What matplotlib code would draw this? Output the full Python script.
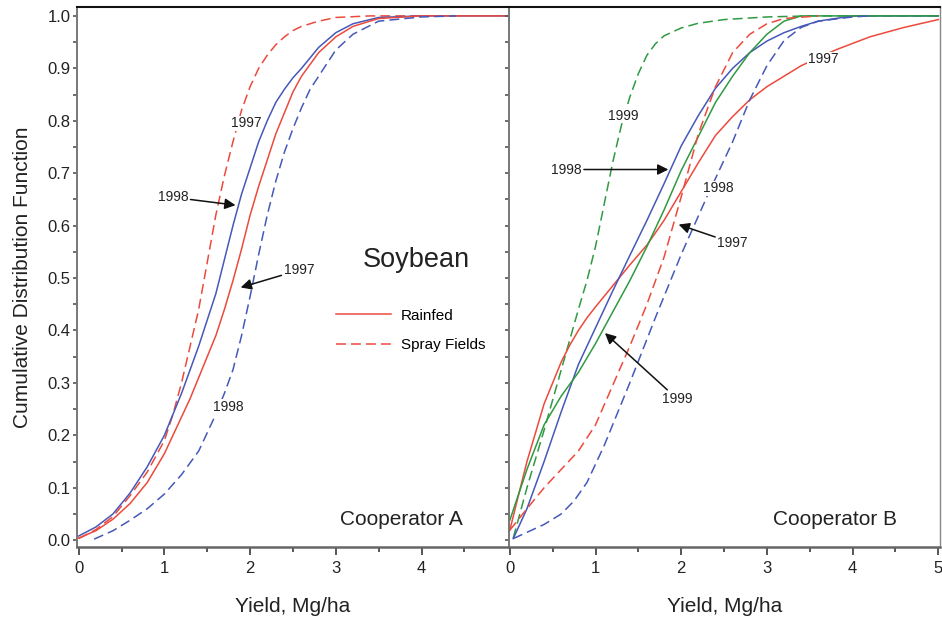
import matplotlib
matplotlib.use('Agg')
import matplotlib.pyplot as plt
from matplotlib.lines import Line2D

plt.rcParams['font.family'] = ['Liberation Sans', 'DejaVu Sans']

RED = '#ec4a3c'
BLUE = '#4658b8'
GREEN = '#2f9a42'
DASH = (0, (6.5, 3.3))

# Cooperator A (yield Mg/ha, cumulative probability)
a_rain97_x = [0, 0.2, 0.4, 0.6, 0.8, 1.0, 1.1, 1.2, 1.3, 1.4, 1.5, 1.6, 1.7, 1.8, 1.9, 2.0, 2.1, 2.2, 2.3, 2.4,
              2.5, 2.6, 2.8, 3.0, 3.2, 3.5, 4.0, 5.03]
a_rain97_y = [0.004, 0.018, 0.04, 0.07, 0.11, 0.165, 0.20, 0.235, 0.27, 0.31, 0.35, 0.39, 0.44, 0.495, 0.555, 0.62,
              0.675, 0.725, 0.775, 0.815, 0.855, 0.885, 0.93, 0.96, 0.98, 0.995, 1.0, 1.0]
a_rain98_x = [0, 0.2, 0.4, 0.6, 0.8, 1.0, 1.1, 1.2, 1.3, 1.4, 1.5, 1.6, 1.7, 1.8, 1.9, 2.0, 2.1, 2.2, 2.3, 2.4,
              2.5, 2.6, 2.8, 3.0, 3.2, 3.5, 4.0, 5.03]
a_rain98_y = [0.008, 0.025, 0.05, 0.09, 0.14, 0.20, 0.24, 0.28, 0.325, 0.37, 0.42, 0.47, 0.535, 0.60, 0.66, 0.71,
              0.76, 0.80, 0.835, 0.86, 0.882, 0.90, 0.94, 0.968, 0.985, 0.997, 1.0, 1.0]
a_spray97_x = [0, 0.2, 0.4, 0.6, 0.8, 1.0, 1.1, 1.2, 1.3, 1.4, 1.5, 1.6, 1.7, 1.8, 1.9, 2.0, 2.1, 2.2, 2.3, 2.4,
               2.5, 2.6, 2.8, 3.0, 3.4, 4.0]
a_spray97_y = [0.003, 0.02, 0.045, 0.085, 0.13, 0.19, 0.24, 0.30, 0.37, 0.44, 0.53, 0.62, 0.695, 0.76, 0.82, 0.865,
               0.90, 0.925, 0.945, 0.96, 0.972, 0.98, 0.99, 0.997, 1.0, 1.0]
a_spray98_x = [0.18, 0.4, 0.6, 0.8, 1.0, 1.2, 1.4, 1.5, 1.6, 1.7, 1.8, 1.9, 2.0, 2.1, 2.2, 2.3, 2.4, 2.5, 2.6,
               2.7, 2.8, 3.0, 3.2, 3.5, 4.0, 4.4]
a_spray98_y = [0.002, 0.018, 0.038, 0.06, 0.088, 0.125, 0.17, 0.205, 0.24, 0.28, 0.325, 0.39, 0.465, 0.545, 0.62,
               0.685, 0.74, 0.785, 0.825, 0.86, 0.885, 0.935, 0.965, 0.99, 0.998, 1.0]

# Cooperator B
b_rain97_x = [0, 0.1, 0.2, 0.3, 0.4, 0.5, 0.6, 0.7, 0.8, 0.9, 1.0, 1.2, 1.4, 1.6, 1.8, 2.0, 2.2, 2.4, 2.6, 2.8,
              3.0, 3.4, 3.8, 4.2, 4.6, 5.0]
b_rain97_y = [0.019, 0.085, 0.15, 0.205, 0.26, 0.30, 0.34, 0.372, 0.40, 0.424, 0.445, 0.485, 0.525, 0.563, 0.61,
              0.665, 0.72, 0.772, 0.808, 0.84, 0.865, 0.905, 0.935, 0.96, 0.978, 0.993]
b_rain98_x = [0.04, 0.2, 0.4, 0.6, 0.8, 1.0, 1.2, 1.4, 1.6, 1.8, 2.0, 2.2, 2.4, 2.6, 2.8, 3.0, 3.2, 3.4, 3.6,
              4.0, 5.0]
b_rain98_y = [0.003, 0.06, 0.15, 0.245, 0.335, 0.405, 0.475, 0.543, 0.61, 0.68, 0.752, 0.81, 0.862, 0.90, 0.93,
              0.952, 0.968, 0.98, 0.99, 1.0, 1.0]
b_rain99_x = [0, 0.2, 0.4, 0.6, 0.8, 1.0, 1.2, 1.4, 1.6, 1.8, 2.0, 2.2, 2.4, 2.6, 2.8, 3.0, 3.2, 3.4, 5.0]
b_rain99_y = [0.038, 0.135, 0.22, 0.275, 0.32, 0.375, 0.435, 0.495, 0.56, 0.63, 0.705, 0.77, 0.835, 0.885, 0.93,
              0.965, 0.99, 1.0, 1.0]
b_spray97_x = [0, 0.2, 0.4, 0.6, 0.8, 1.0, 1.2, 1.4, 1.6, 1.8, 2.0, 2.2, 2.4, 2.6, 2.8, 3.0, 3.2, 3.6]
b_spray97_y = [0.019, 0.06, 0.10, 0.135, 0.17, 0.22, 0.295, 0.37, 0.45, 0.54, 0.655, 0.775, 0.865, 0.93, 0.965,
               0.985, 0.995, 1.0]
b_spray98_x = [0.04, 0.2, 0.4, 0.6, 0.75, 0.9, 1.1, 1.4, 1.7, 2.0, 2.3, 2.6, 2.8, 3.0, 3.2, 3.4, 3.6, 4.0, 4.2]
b_spray98_y = [0.003, 0.015, 0.03, 0.05, 0.075, 0.11, 0.18, 0.30, 0.425, 0.545, 0.655, 0.76, 0.84, 0.905, 0.953,
               0.978, 0.99, 0.998, 1.0]
b_spray99_x = [0.04, 0.2, 0.4, 0.6, 0.8, 0.9, 1.0, 1.1, 1.2, 1.3, 1.4, 1.5, 1.6, 1.7, 1.8, 2.0, 2.2, 2.5, 3.0,
               3.5, 5.0]
b_spray99_y = [0.004, 0.10, 0.21, 0.325, 0.44, 0.495, 0.56, 0.64, 0.72, 0.79, 0.845, 0.89, 0.925, 0.947, 0.962,
               0.977, 0.986, 0.993, 0.998, 1.0, 1.0]

xticks = [0, 1, 2, 3, 4]
xticks_b = [0, 1, 2, 3, 4, 5]
yticks = [i / 10 for i in range(11)]

fig = plt.figure(figsize=(9.42, 6.18), dpi=100)
axA = fig.add_axes([0.0817, 0.1149, 0.4586, 0.8738])
axB = fig.add_axes([0.5403, 0.1149, 0.4576, 0.8738])

axA.plot(a_spray97_x, a_spray97_y, color=RED, lw=1.1, ls=DASH)
axA.plot(a_rain98_x, a_rain98_y, color=BLUE, lw=1.1)
axA.plot(a_rain97_x, a_rain97_y, color=RED, lw=1.1)
axA.plot(a_spray98_x, a_spray98_y, color=BLUE, lw=1.1, ls=DASH)

axB.plot(b_spray99_x, b_spray99_y, color=GREEN, lw=1.1, ls=DASH)
axB.plot(b_rain97_x, b_rain97_y, color=RED, lw=1.1)
axB.plot(b_rain98_x, b_rain98_y, color=BLUE, lw=1.1)
axB.plot(b_rain99_x, b_rain99_y, color=GREEN, lw=1.1)
axB.plot(b_spray97_x, b_spray97_y, color=RED, lw=1.1, ls=DASH)
axB.plot(b_spray98_x, b_spray98_y, color=BLUE, lw=1.1, ls=DASH)

arrow = dict(arrowstyle='-|>', color='#111111', lw=1.1, mutation_scale=16, shrinkA=1, shrinkB=0)
tk = dict(fontsize=10, color='#222222', ha='center', va='center', zorder=5,
          bbox=dict(fc='white', ec='none', pad=0.6))

# Cooperator A labels
axA.text(1.95, 0.795, '1997', **tk)
axA.annotate('1998', xy=(1.83, 0.639), xytext=(1.10, 0.654), arrowprops=arrow, **tk)
axA.annotate('1997', xy=(1.89, 0.482), xytext=(2.57, 0.515), arrowprops=arrow, **tk)
axA.text(1.74, 0.254, '1998', **tk)
axA.text(3.94, 0.534, 'Soybean', fontsize=19.5, color='#222222', ha='center', va='center')
axA.text(3.76, 0.04, 'Cooperator A', fontsize=15, color='#222222', ha='center', va='center')

handles = [Line2D([], [], color=RED, lw=1.1), Line2D([], [], color=RED, lw=1.1, ls=DASH)]
axA.legend(handles, ['Rainfed', 'Spray Fields'], loc='center left', bbox_to_anchor=(3.0, 0.40),
           bbox_transform=axA.transData, frameon=False, fontsize=11, handlelength=3.6,
           handletextpad=0.65, labelspacing=1.0, borderpad=0, borderaxespad=0)

# Cooperator B labels
axB.text(1.32, 0.81, '1999', **tk)
axB.annotate('1998', xy=(1.85, 0.707), xytext=(0.66, 0.707), arrowprops=arrow, **tk)
axB.text(2.43, 0.671, '1998', **tk)
axB.annotate('1997', xy=(1.97, 0.602), xytext=(2.6, 0.567), arrowprops=arrow, **tk)
axB.text(3.66, 0.917, '1997', **tk)
axB.annotate('1999', xy=(1.11, 0.395), xytext=(1.95, 0.27), arrowprops=arrow, **tk)
axB.text(3.8, 0.04, 'Cooperator B', fontsize=15, color='#222222', ha='center', va='center')

for ax in (axA, axB):
    ax.set_ylim(-0.013, 1.017)
    ax.set_yticks(yticks)
    ax.set_yticks([i / 20 for i in range(21)], minor=True)
    ax.set_xlabel('Yield, Mg/ha', fontsize=15, color='#222222', labelpad=15)
    ax.tick_params(axis='x', which='major', length=6, width=1.4, color='#555555',
                   labelsize=12, pad=4, labelcolor='#222222')
    ax.tick_params(axis='x', which='minor', length=3.5, width=1.4, color='#555555')
    ax.tick_params(axis='y', which='both', length=2.6, width=1.2, color='#555555',
                   labelsize=12, pad=2, labelcolor='#222222')
    ax.spines['top'].set_color('#111111')
    ax.spines['top'].set_linewidth(1.5)
    ax.spines['bottom'].set_color('#666666')
    ax.spines['bottom'].set_linewidth(1.8)
    ax.spines['left'].set_color('#777777')
    ax.spines['left'].set_linewidth(1.4)
    ax.spines['right'].set_color('#888888')
    ax.spines['right'].set_linewidth(1.0)

axA.set_xlim(-0.02, 5.02)
axA.set_xticks(xticks)
axA.set_xticks([0.5, 1.5, 2.5, 3.5, 4.5], minor=True)
axA.set_yticklabels(['%.1f' % v for v in yticks])
axA.set_ylabel('Cumulative Distribution Function', fontsize=15, color='#222222', labelpad=11)

axB.set_xlim(-0.01, 5.02)
axB.set_xticks(xticks_b)
axB.set_xticks([0.5, 1.5, 2.5, 3.5, 4.5], minor=True)
axB.set_yticklabels([])

fig.savefig('out.png', dpi=100)
